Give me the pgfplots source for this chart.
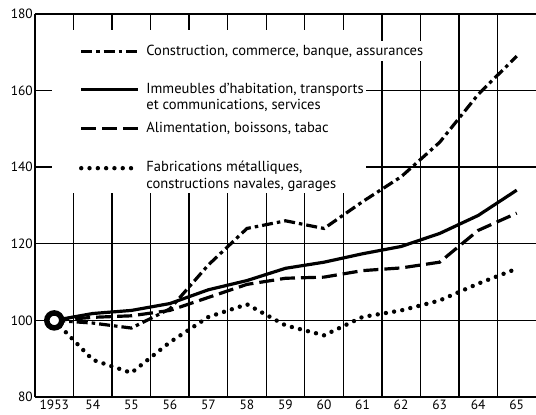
\documentclass[border=0pt]{standalone}
\usepackage{fontspec}
\setmainfont{PT Sans}
\usepackage{pgfplots}
\pgfplotsset{compat=1.18}
\setlength{\fboxsep}{0pt}
\begin{document}
\begin{tikzpicture}
\begin{axis}[
  scale only axis, width=501bp, height=383bp,
  xmin=1952.5, xmax=1965.5, ymin=80, ymax=180,
  axis x line=box, axis y line=left,
  axis line style={-, line width=2.6pt},
  xtick={1953,...,1965},
  xticklabels={1953,54,55,56,57,58,59,60,61,62,63,64,65},
  minor xtick={1953.5,1954.5,...,1964.5},
  ytick={80,100,...,180},
  major tick length=0pt, minor tick length=0pt,
  xminorgrids, ymajorgrids,
  major grid style={black, line width=1.4pt},
  minor grid style={black, line width=1.4pt},
  /pgf/number format/assume math mode=true,
  tick label style={font=\fontsize{13.5}{15}\selectfont},
  yticklabel style={inner sep=2bp},
  xticklabel style={inner sep=3bp},
  legend image code/.code={\pgfpathmoveto{\pgfqpoint{0bp}{0bp}}\pgfpathlineto{\pgfqpoint{29bp}{0bp}}\pgfusepath{}\draw[#1] (29bp,3.5bp) -- (86bp,3.5bp);},
  legend style={at={(rel axis cs:0.034,0.958)}, anchor=north west, fill=white, draw=none,
    inner sep=0pt, row sep=0pt, column sep=4bp,
    font=\fontsize{14.6}{16.5}\selectfont,
    nodes={text depth=, text height=, inner sep=0pt, inner xsep=2bp},
    cells={anchor=base west}},
]
\addplot[black, line width=3.2pt, dash pattern=on 11bp off 4bp on 3.5bp off 4bp] coordinates {
(1953,100)(1954,99.3)(1955,98)(1956,103)(1957,114.5)(1958,124)(1959,126)(1960,124)(1961,131)(1962,137.5)(1963,146.5)(1964,159)(1965,169)};
\addlegendentry{\rule[-26.5bp]{0pt}{51.5bp}\rlap{\colorbox{white}{\rule[-6bp]{0pt}{20bp}Construction, commerce, banque, assurances}}}
\addplot[black, line width=3.2pt] coordinates {
(1953,100)(1954,101.8)(1955,102.6)(1956,104.4)(1957,108)(1958,110.4)(1959,113.6)(1960,115.2)(1961,117.4)(1962,119.3)(1963,122.7)(1964,127.4)(1965,134)};
\addlegendentry{\begin{tabular}[t]{@{}l@{}}Immeubles d'habitation, transports\\et communications, services\end{tabular}}
\addplot[black, line width=3.2pt, dash pattern=on 15bp off 6bp] coordinates {
(1953,100)(1954,100.8)(1955,101.2)(1956,102.6)(1957,106)(1958,109.4)(1959,111)(1960,111.3)(1961,113)(1962,113.7)(1963,115.2)(1964,123.5)(1965,128)};
\addlegendentry{\rule[-28bp]{0pt}{45.5bp}Alimentation, boissons, tabac}
\addplot[black, line width=4.4bp, line cap=round, dash pattern=on 0bp off 8.3bp] coordinates {
(1953,100)(1954,89.7)(1955,86.3)(1956,94.3)(1957,100.9)(1958,104.2)(1959,98.7)(1960,96.1)(1961,100.9)(1962,102.6)(1963,105.2)(1964,109.6)(1965,113.5)};
\addlegendentry{\begin{tabular}[t]{@{}l@{}}Fabrications métalliques,\\constructions navales, garages\end{tabular}}
\addplot[forget plot, only marks, line width=5.5pt, mark=*, mark size=7.5pt, mark options={fill=white, draw=black, line width=5.5pt}] coordinates {(1953,100)};
\coordinate (sw) at (rel axis cs:0,0);
\coordinate (ne) at (rel axis cs:1,1);
\end{axis}
\pgfresetboundingbox
\path[use as bounding box] ([xshift=-35bp,yshift=-18bp]sw) rectangle ([yshift=14bp]ne);
\end{tikzpicture}
\end{document}
